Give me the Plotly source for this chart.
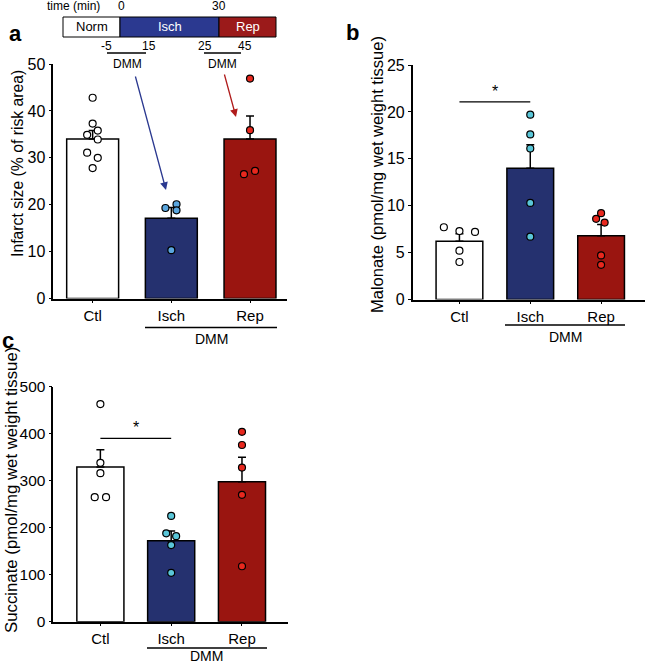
import plotly.graph_objects as go

W, H = 648, 664
categories = ["Ctl", "Isch", "Rep"]

# Panel a: infarct size (% of risk area)
a_means = [34.0, 17.1, 34.0]
a_sem_top = [35.8, 19.4, 38.9]
a_ctl = [42.8, 37.3, 35.8, 34.9, 33.9, 31.1, 30.0, 27.8]
a_isch = [19.3, 20.1, 18.8, 10.3]
a_rep = [46.9, 35.9, 26.5, 27.2]

# Panel b: malonate
b_means = [6.2, 14.0, 6.8]
b_sem_top = [7.0, 16.5, 8.0]
b_ctl = [7.7, 7.3, 7.2, 5.2, 4.0]
b_isch = [19.7, 17.6, 16.1, 10.3, 6.7]
b_rep = [8.6, 9.2, 8.2, 4.7, 3.7]

# Panel c: succinate
c_means = [329.0, 172.0, 298.0]
c_sem_top = [366.0, 193.0, 350.0]
c_ctl = [463, 338, 316, 265, 265]
c_isch = [225, 188, 182, 163, 104]
c_rep = [404, 376, 328, 270, 118]

# jitter (layout only)
a_jit = [[0, 0, 0.065, -0.07, 0.065, -0.07, 0.065, 0], [-0.075, 0.066, 0.066, 0], [0, 0, -0.077, 0.064]]
b_jit = [[-0.22, 0, 0.22, 0, 0], [0, 0, 0, 0, 0], [-0.07, 0, 0.05, 0, 0]]
c_jit = [[0, 0, 0, -0.08, 0.08], [0, -0.07, 0.07, 0, 0], [0, 0, 0, 0, 0]]

BAR_COLORS = ["#ffffff", "#25316f", "#9a1510"]
FONT = "Liberation Sans, Arial, sans-serif"


def px(x):
    return x / W


def py(y):
    return 1 - y / H


fig = go.Figure()


def add_panel(n, means, sem_top, groups, jit, pt_colors, width):
    xa = "x" if n == 1 else f"x{n}"
    ya = "y" if n == 1 else f"y{n}"
    fig.add_trace(go.Bar(
        x=[0, 1, 2], y=means, width=width,
        marker=dict(color=BAR_COLORS, line=dict(color="black", width=1.5)),
        error_y=dict(type="data", symmetric=False,
                     array=[t - m for t, m in zip(sem_top, means)],
                     arrayminus=[0, 0, 0], color="black", thickness=1.5, width=4),
        xaxis=xa, yaxis=ya, showlegend=False, hoverinfo="skip"))
    for i, vals in enumerate(groups):
        fig.add_trace(go.Scatter(
            x=[i + j for j in jit[i]], y=vals, mode="markers",
            marker=dict(size=7, color=pt_colors[i], line=dict(color="black", width=1.2)),
            xaxis=xa, yaxis=ya, showlegend=False, hoverinfo="skip"))


add_panel(1, a_means, a_sem_top, [a_ctl, a_isch, a_rep], a_jit,
          ["#ffffff", "#5aa6de", "#e8281e"], 0.66)
add_panel(2, b_means, b_sem_top, [b_ctl, b_isch, b_rep], b_jit,
          ["#ffffff", "#5ac6d8", "#e8281e"], 0.66)
add_panel(3, c_means, c_sem_top, [c_ctl, c_isch, c_rep], c_jit,
          ["#ffffff", "#5ac6d8", "#e8281e"], 0.665)

xcommon = dict(tickvals=[0, 1, 2], ticktext=categories, showline=True, linecolor="black",
               linewidth=1.5, ticks="outside", ticklen=3, tickcolor="black", tickwidth=1.2,
               showgrid=False, zeroline=False, automargin=False,
               tickfont=dict(size=15, color="black", family=FONT))
ycommon = dict(showline=True, linecolor="black", linewidth=1.5, ticks="outside", ticklen=3,
               tickcolor="black", tickwidth=1.2, showgrid=False, zeroline=False, automargin=False,
               tickfont=dict(size=16, color="black", family=FONT))

fig.update_layout(
    template="none",
    width=W, height=H, margin=dict(l=0, r=0, t=0, b=0, pad=0),
    paper_bgcolor="white", plot_bgcolor="white",
    font=dict(family=FONT, color="black"),
    xaxis=dict(xcommon, domain=[px(53.3), px(287)], range=[-0.5, 2.47], anchor="y"),
    yaxis=dict(ycommon, domain=[py(298.5), py(64)], range=[0, 50], tickvals=[0, 10, 20, 30, 40, 50], anchor="x"),
    xaxis2=dict(xcommon, domain=[px(412.7), px(645)], range=[-0.66, 2.62], anchor="y2"),
    yaxis2=dict(ycommon, domain=[py(299.5), py(65)], range=[0, 25], tickvals=[0, 5, 10, 15, 20, 25], anchor="x2"),
    xaxis3=dict(xcommon, domain=[px(53.3), px(288)], range=[-0.665, 2.65], anchor="y3"),
    yaxis3=dict(ycommon, domain=[py(621.7), py(386.7)], range=[0, 500], tickvals=[0, 100, 200, 300, 400, 500], anchor="x3",
                tickfont=dict(size=15.5, color="black", family=FONT)),
)

shapes = []
ann = []


def text(x, y, t, size=13, color="black", **kw):
    ann.append(dict(x=px(x), y=py(y), xref="paper", yref="paper", text=t, showarrow=False,
                    xanchor="center", yanchor="middle",
                    font=dict(size=size, color=color, family=FONT), **kw))


def hline(x0, x1, y, color="black", w=1.3):
    shapes.append(dict(type="line", xref="paper", yref="paper", x0=px(x0), x1=px(x1),
                       y0=py(y), y1=py(y), line=dict(color=color, width=w)))


# Panel letters
text(15, 34, "<b>a</b>", size=22)
text(352, 33, "<b>b</b>", size=22)
text(8, 341, "<b>c</b>", size=22)

# Axis titles
text(18, 164, "Infarct size (% of risk area)", size=15.75, textangle=-90)
text(377, 175, "Malonate (pmol/mg wet weight tissue)", size=16.5, textangle=-90)
text(11, 490, "Succinate (pmol/mg wet weight tissue)", size=16.8, textangle=-90)

# Timeline
for x0, x1, col in [(63, 120, "#ffffff"), (120, 219, "#2b3990"), (219, 276, "#9b1a1a")]:
    shapes.append(dict(type="rect", xref="paper", yref="paper", x0=px(x0), x1=px(x1),
                       y0=py(37), y1=py(17), fillcolor=col, line=dict(color="black", width=1)))
text(73, 6, "time (min)", size=12)
text(121, 6, "0", size=12)
text(219, 6, "30", size=12)
text(92, 27, "Norm", size=13)
text(170, 27, "Isch", size=13, color="white")
text(248, 27, "Rep", size=13, color="white")
text(106, 46, "-5", size=12)
text(149, 46, "15", size=12)
text(205, 46, "25", size=12)
text(245, 46, "45", size=12)
hline(107, 146, 53)
hline(204, 241, 53)
text(127, 64, "DMM", size=12)
text(222, 64, "DMM", size=12)

# Arrows
ann.append(dict(x=px(166), y=py(190), xref="paper", yref="paper", text="", showarrow=True,
                ax=-31, ay=-115, arrowhead=2, arrowsize=1.2, arrowwidth=1.3, arrowcolor="#2b3990"))
ann.append(dict(x=px(236), y=py(117), xref="paper", yref="paper", text="", showarrow=True,
                ax=-12, ay=-44, arrowhead=2, arrowsize=1.2, arrowwidth=1.3, arrowcolor="#b01c1c"))

# DMM underlines
hline(145, 277, 327.5)
text(211, 339, "DMM", size=14)
hline(505, 625, 325)
text(565, 337, "DMM", size=14)
hline(147, 267, 648)
text(207, 656, "DMM", size=14)

# Significance
shapes.append(dict(type="line", xref="x2", yref="y2", x0=0, x1=1, y0=21.06, y1=21.06,
                   line=dict(color="black", width=1.2)))
ann.append(dict(x=0.5, y=22.2, xref="x2", yref="y2", text="*", showarrow=False, yanchor="middle",
                font=dict(size=16, color="black", family=FONT)))
shapes.append(dict(type="line", xref="x3", yref="y3", x0=0, x1=1, y0=390, y1=390,
                   line=dict(color="black", width=1.2)))
ann.append(dict(x=0.5, y=414, xref="x3", yref="y3", text="*", showarrow=False, yanchor="middle",
                font=dict(size=16, color="black", family=FONT)))

fig.update_layout(shapes=shapes, annotations=ann)
fig.write_html("out.html", config={"displayModeBar": False},
               post_script="document.body.style.margin='0';")
